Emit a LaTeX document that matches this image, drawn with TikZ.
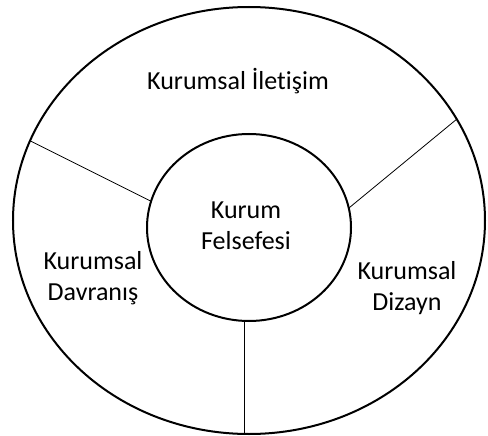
\documentclass[tikz,border=0pt]{standalone}
\usepackage{fontspec}
\setmainfont[Ligatures={NoCommon}]{Carlito}
\usetikzlibrary{shapes.geometric}
\tikzset{
	ring/.style={draw, ellipse, inner sep=0pt, outer sep=0pt, line width=2pt},
	label/.style={align=center, font=\fontsize{26}{31}\selectfont},
	spoke/.style={line width=0.8pt}
}

\begin{document}
\begin{tikzpicture}[x=1pt, y=-1pt]
	\useasboundingbox (0,0) rectangle (488,436);
	
	\node[ring, minimum width=472pt, minimum height=427pt] (outer) at (249,220.5) {};
	\node[ring, minimum width=204pt, minimum height=187pt] (inner) at (249,227.5) {};
	
	\node[label] (core) at (246,226) {Kurum\\Felsefesi};
	\node[label, anchor=base] (top) at (238,90) {Kurumsal İletişim};
	\node[label] (left) at (93,278) {Kurumsal\\Davranış};
	\node[label] (right) at (407,288) {Kurumsal\\Dizayn};
	
	\draw[spoke] (inner.165) -- (outer.160);
	\draw[spoke] (inner.11) -- (outer.26);
	\draw[spoke] (inner.267.5) -- (inner.267.5 |- outer.south);
\end{tikzpicture}
\end{document}
